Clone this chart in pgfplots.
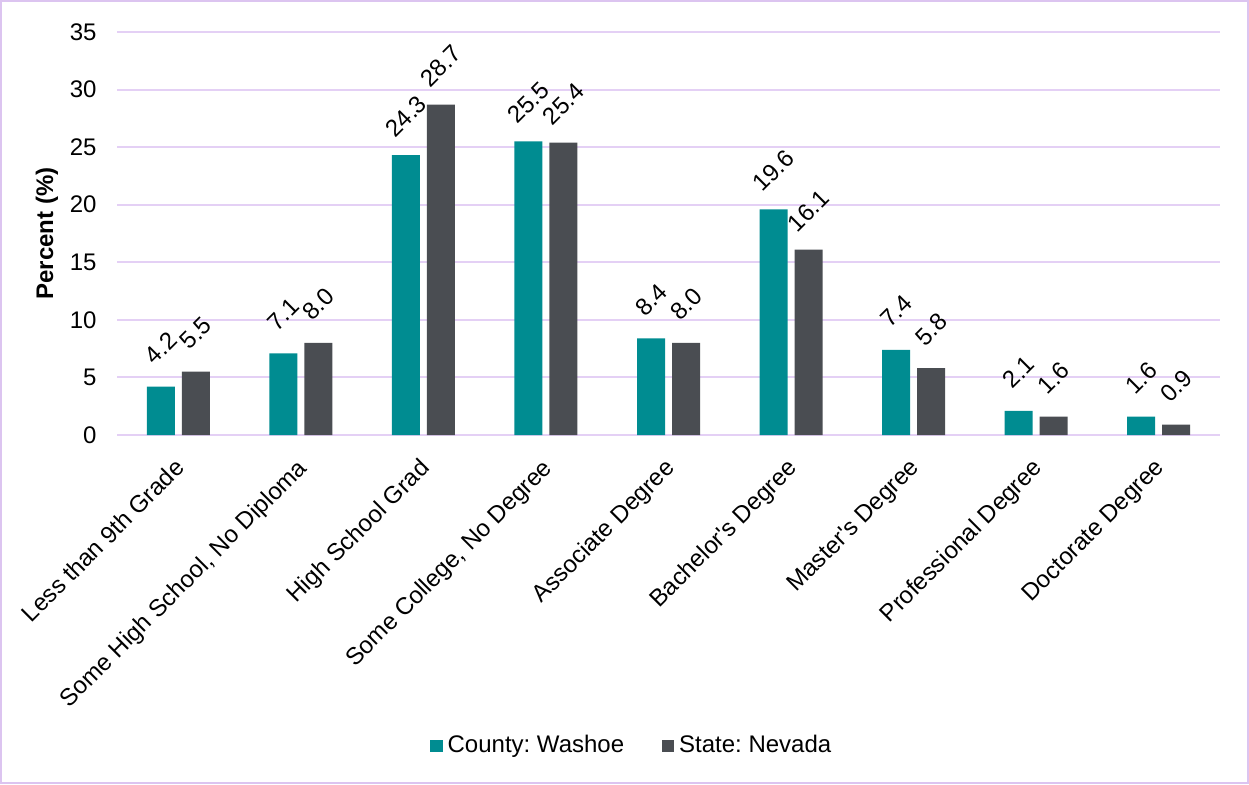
\documentclass[border=0pt]{standalone}
\usepackage{fontspec}
\setmainfont{Liberation Sans}
\usepackage{pgfplots}
\pgfplotsset{compat=1.18}
\frenchspacing

\definecolor{washoe}{RGB}{0,140,145}
\definecolor{nevada}{RGB}{74,77,82}
\definecolor{gridlav}{RGB}{228,208,245}
\definecolor{framelav}{RGB}{220,196,240}

\newcommand{\chartfont}{\fontsize{9.6}{11}\selectfont}

\begin{document}
\begin{tikzpicture}
  % page is 1249 x 784 px at 0.4pt per px
  \path[use as bounding box] (0,0) rectangle (499.6pt,313.6pt);
  \draw[framelav, line width=0.8pt] (0.4pt,0.4pt) rectangle (499.2pt,313.2pt);

  \begin{axis}[
      at={(46.8pt,139.6pt)}, anchor=south west,
      scale only axis,
      width=441.2pt, height=161.2pt,
      ybar=2.8pt,
      bar width=11.2pt,
      xmin=-0.5, xmax=8.5,
      ymin=0, ymax=35,
      ytick={0,5,...,35},
      xtick=data,
      xticklabels={Less than 9th Grade, {Some High School, No Diploma}, High School Grad,
        {Some College, No Degree}, Associate Degree, Bachelor\textquotesingle s Degree,
        Master\textquotesingle s Degree, Professional Degree, Doctorate Degree},
      axis line style={draw=none},
      major tick length=0pt,
      ymajorgrids,
      grid style={gridlav, line width=0.8pt},
      /pgf/number format/assume math mode=true,
      tick label style={font=\chartfont},
      yticklabel style={anchor=east, inner sep=0pt, xshift=-8pt},
      xticklabel style={inner sep=0pt, xshift=-2pt, yshift=-8.6pt, rotate=45, anchor=north east},
      ylabel={\textbf{Percent (\%)}},
      ylabel style={font=\chartfont, at={(axis description cs:-0.0635,0.5)}, anchor=center},
      nodes near coords,
      nodes near coords style={font=\chartfont, yshift=15.5pt, rotate=45, anchor=center,
        /pgf/number format/.cd, fixed, fixed zerofill, precision=1},
      legend columns=2,
      legend style={at={(0.468,-0.772)}, anchor=center, draw=none, font=\chartfont,
        /tikz/every even column/.append style={column sep=13pt}},
      legend image code/.code={\fill[#1] (0pt,-2.5pt) rectangle (5pt,2.5pt);},
    ]
    \addplot[fill=washoe, draw=none] coordinates {
      (0,4.2) (1,7.1) (2,24.3) (3,25.5) (4,8.4) (5,19.6) (6,7.4) (7,2.1) (8,1.6)};
    \addplot[fill=nevada, draw=none] coordinates {
      (0,5.5) (1,8.0) (2,28.7) (3,25.4) (4,8.0) (5,16.1) (6,5.8) (7,1.6) (8,0.9)};
    \legend{County: Washoe, State: Nevada}
  \end{axis}
\end{tikzpicture}
\end{document}
